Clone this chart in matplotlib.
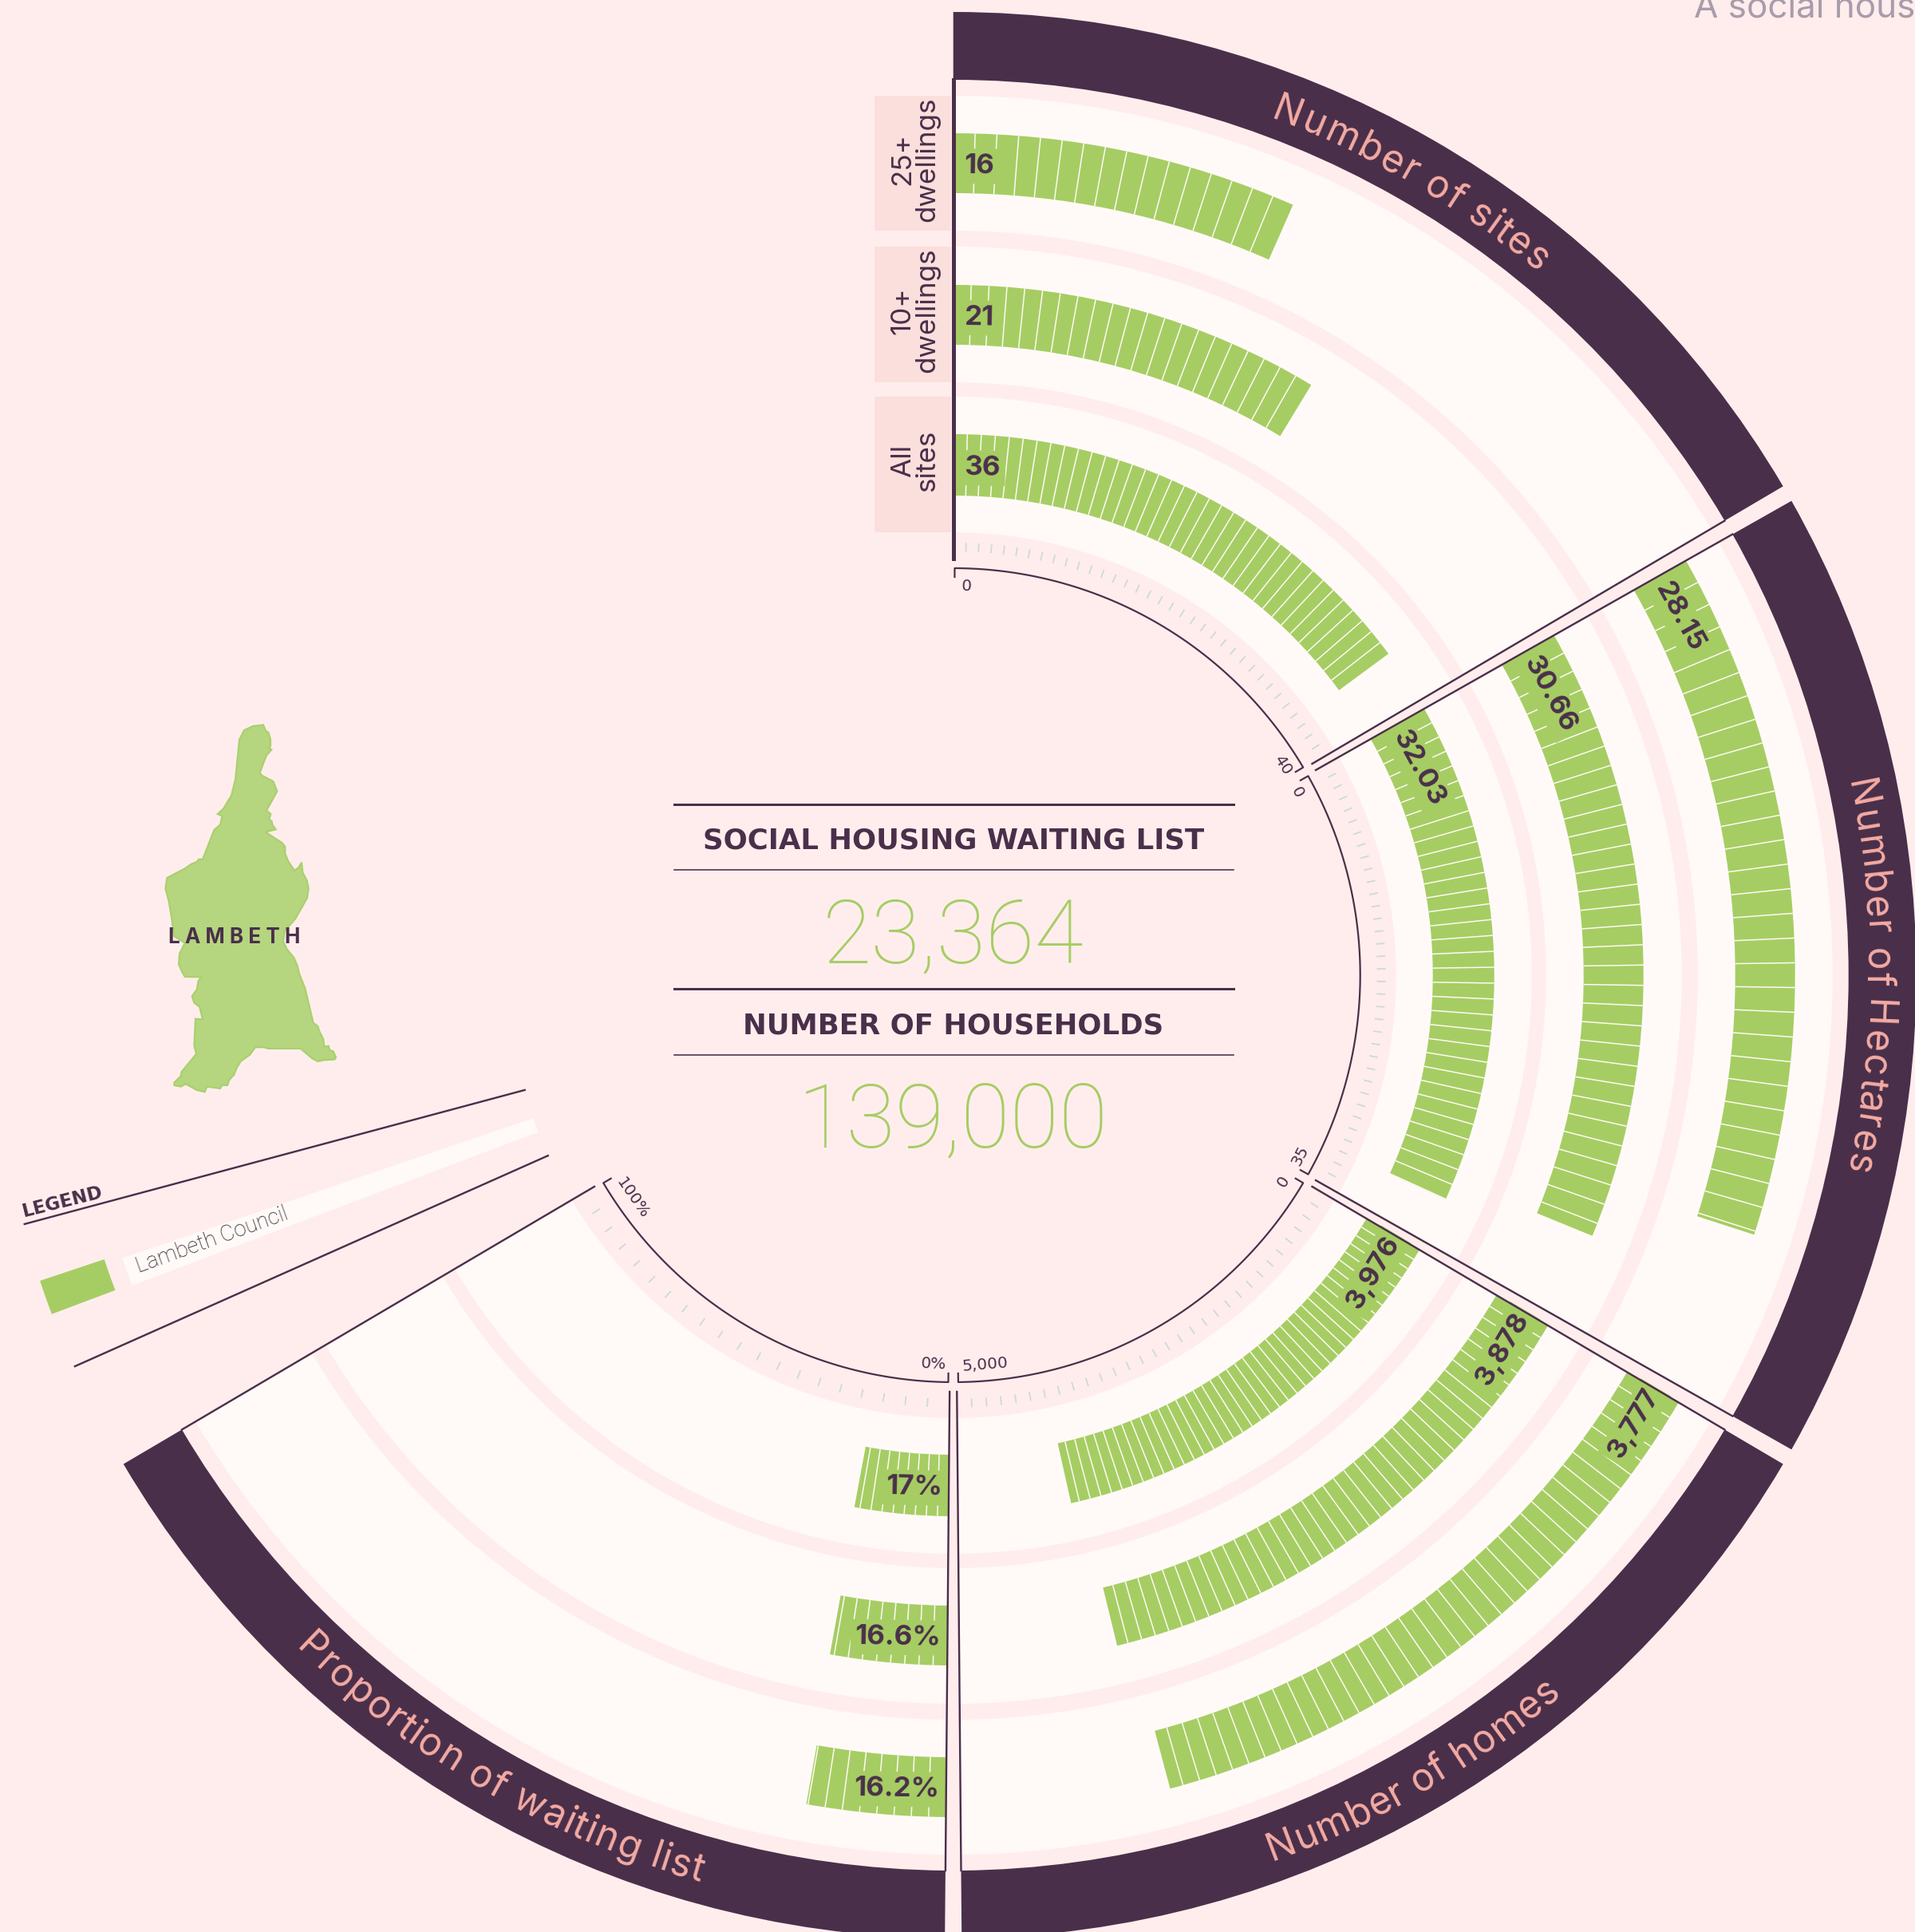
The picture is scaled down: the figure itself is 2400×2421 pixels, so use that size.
#!/usr/bin/env python3
import numpy as np
import matplotlib
matplotlib.use("Agg")
import matplotlib.pyplot as plt
from matplotlib.font_manager import FontProperties

# values, outer ring to inner ring
site_values = [16, 21, 36]
site_labels = ["16", "21", "36"]
site_rows = ["25+\ndwellings", "10+\ndwellings", "All\nsites"]
hectare_values = [28.15, 30.66, 32.03]
hectare_labels = ["28.15", "30.66", "32.03"]
home_values = [3777, 3878, 3976]
home_labels = ["3,777", "3,878", "3,976"]
waiting_values = [16.2, 16.6, 17.0]
waiting_labels = ["16.2%", "16.6%", "17%"]

sector_titles = ["Number of sites", "Number of Hectares", "Number of homes", "Proportion of waiting list"]
axis_min_labels = ["0", "0", "0", "0%"]
axis_max_labels = ["40", "35", "5,000", "100%"]
axis_max = [40, 35, 5000, 100]
segment_step = [1, 1, 100, 2]
scale_ticks = [35, 35, 30, 20]

panel_titles = ["SOCIAL HOUSING WAITING LIST", "NUMBER OF HOUSEHOLDS"]
panel_values = ["23,364", "139,000"]
legend_labels = ["Lambeth Council"]

# borough outline
map_x = [540, 548, 560, 567, 567, 560, 571, 552, 540, 530, 526, 535, 578, 592, 552, 568, 562, 572, 575, 587, 548, 610, 622, 622, 635, 657, 672, 684, 688, 704, 710, 705, 680, 660, 620, 615, 630, 655, 668, 675, 697, 710, 728, 745, 750, 765, 770, 785, 790, 803, 813, 808, 770, 745, 725, 680, 560, 540, 510, 490, 455, 440, 430, 412, 405, 385, 378, 328, 320, 290, 248, 230, 205, 205, 230, 232, 288, 280, 285, 312, 300, 280, 272, 290, 295, 305, 245, 235, 222, 225, 245, 205, 195, 185, 172, 178, 245, 270, 290, 298, 312, 318, 355, 378, 385, 368, 390, 420, 435, 450, 468, 500]
map_y = [85, 105, 115, 140, 165, 170, 178, 200, 230, 258, 265, 275, 298, 335, 407, 420, 440, 448, 462, 478, 488, 528, 543, 570, 600, 632, 622, 602, 640, 670, 700, 735, 780, 815, 860, 900, 930, 960, 990, 1020, 1075, 1130, 1205, 1218, 1235, 1265, 1295, 1292, 1308, 1312, 1335, 1343, 1345, 1350, 1340, 1302, 1302, 1297, 1297, 1325, 1350, 1375, 1400, 1420, 1440, 1440, 1452, 1445, 1465, 1458, 1435, 1445, 1440, 1430, 1405, 1390, 1322, 1290, 1190, 1192, 1145, 1130, 1105, 1080, 1050, 1033, 1032, 1015, 985, 945, 905, 880, 810, 750, 700, 660, 625, 608, 600, 590, 590, 575, 480, 460, 428, 420, 400, 350, 290, 140, 105, 90]

W, H = 2400, 2421
CX, CY = 1194.7, 1222
RMAX = 1300

BG = "#FFEDED"
DARK = "#4A2F4A"
GREEN = "#A6CD63"
MAP_GREEN = "#B5D57F"
WHITE = "#FFFAF7"
SALMON = "#F4ABA3"
BOX = "#FBDFDC"
TICK = "#CFD9D6"

HEAD_FONT = "Inter"
WIDE_FONT = "DejaVu Sans"
LIGHT_FONT = "Roboto"

sector_start = [0, 60.5, 120.5, 180.5]
sector_end = [59.5, 119.5, 179.5, 239.5]
bands = [(933, 1102), (743, 913), (555, 725)]
bar_r = [(980, 1055), (790, 865), (601, 678)]
RING_IN, RING_OUT = 1122, 1207

px = 0.72  # points per pixel at dpi 100

fig = plt.figure(figsize=(W / 100, H / 100), dpi=100, facecolor=BG)
ax = fig.add_axes([(CX - RMAX) / W, (H - CY - RMAX) / H, 2 * RMAX / W, 2 * RMAX / H], projection="polar")
ax.set_theta_zero_location("N")
ax.set_theta_direction(-1)
ax.set_rlim(0, RMAX)
ax.axis("off")

over = fig.add_axes([0, 0, 1, 1], facecolor="none")
over.set_xlim(0, W)
over.set_ylim(H, 0)
over.axis("off")
over.set_zorder(ax.get_zorder() + 1)


def arc_bar(a0, a1, r0, r1, color, z=1):
    ax.bar(np.radians(a0), r1 - r0, width=np.radians(a1 - a0), bottom=r0, align="edge",
           color=color, linewidth=0, zorder=z)


def curved_text(s, mid_angle, span, r_mid, size_px, clockwise):
    fp = FontProperties(family=HEAD_FONT, size=size_px * px)
    rend = fig.canvas.get_renderer()
    width = lambda t: rend.get_text_width_height_descent(t, fp, False)[0] if t else 0.0
    total = width(s)
    cap = 0.72 * size_px
    for i, ch in enumerate(s):
        if ch == " ":
            continue
        centre = (width(s[:i]) + width(s[:i + 1])) / 2 / total - 0.5
        if clockwise:
            a = mid_angle + centre * span
            r = r_mid - cap / 2
            rot = -a
        else:
            a = mid_angle - centre * span
            r = r_mid + cap / 2
            rot = 180 - a
        ax.text(np.radians(a), r, ch, fontproperties=fp, color=SALMON, rotation=rot,
                rotation_mode="anchor", ha="center", va="baseline", zorder=6)


values = [site_values, hectare_values, home_values, waiting_values]
labels = [site_labels, hectare_labels, home_labels, waiting_labels]
title_mid = [30, 90.1, 150, 210]
title_span = [19.6, 24.7, 20.5, 28.9]
label_offset = [14, 10, 4, 8]
min_label_shift = [2.0, 1.5, 1.5, 2.4]
max_label_shift = [2.0, 2.0, 4.2, 4.3]

for s in range(4):
    a0, a1 = sector_start[s], sector_end[s]
    sweep = a1 - a0
    to_angle = lambda v: a0 + v / axis_max[s] * sweep

    arc_bar(a0, a1, RING_IN, RING_OUT, DARK, 2)
    for lo, hi in bands:
        arc_bar(a0, a1, lo, hi, WHITE, 2)

    for (r0, r1), v, lab in zip(bar_r, values[s], labels[s]):
        arc_bar(a0, to_angle(v), r0, r1, GREEN, 3)
        cuts = np.arange(segment_step[s], v, segment_step[s])
        ax.vlines(np.radians(to_angle(cuts)), r0, r1, color=WHITE, linewidth=1.5 * px, zorder=4)
        r = (r0 + r1) / 2
        a = a0 + np.degrees(label_offset[s] / r)
        if s < 2:
            rot, ha = -a, "left"
        else:
            rot, ha = 180 - a, "right"
        ax.text(np.radians(a), r, lab, fontsize=35 * px, family=HEAD_FONT, fontweight="bold", color=DARK,
                rotation=rot, rotation_mode="anchor", ha=ha, va="center_baseline", zorder=5,
                bbox=dict(facecolor=GREEN, edgecolor="none", pad=6 * px))

    # pale scale ticks between the inner arc and the white rings
    tick_a = a0 + sweep * np.arange(1, scale_ticks[s]) / scale_ticks[s]
    ax.vlines(np.radians(tick_a), 531, 542, color=TICK, linewidth=1.8 * px, zorder=2)

    # inner axis arc with end hooks
    arc_a = np.linspace(a0 + 0.2, a1 - 0.2, 120)
    ax.plot(np.radians(np.r_[arc_a[0], arc_a, arc_a[-1]]), np.r_[499, np.full(120, 510), 499],
            color=DARK, linewidth=2.2 * px, zorder=4)
    lo_a = a0 + min_label_shift[s]
    ax.text(np.radians(lo_a), 488, axis_min_labels[s], fontsize=20 * px, family=WIDE_FONT, color=DARK,
            rotation=-lo_a if s < 2 else 180 - lo_a, rotation_mode="anchor",
            ha="center", va="center", zorder=5)
    hi_a = a1 - max_label_shift[s]
    ax.text(np.radians(hi_a), 490, axis_max_labels[s], fontsize=20 * px, family=WIDE_FONT, color=DARK,
            rotation=-hi_a if s < 1 else 180 - hi_a, rotation_mode="anchor",
            ha="center", va="center", zorder=5)

    # sector edges
    for edge in (a0, a1):
        ax.plot(np.radians([edge, edge]), [522, RING_IN], color=DARK,
                linewidth=(5 if edge == 0 else 2.4) * px, zorder=5)

    curved_text(sector_titles[s], title_mid[s], title_span[s], (RING_IN + RING_OUT) / 2 - 2, 48,
                clockwise=s < 2)

# legend
for edge in (255, 246):
    ax.plot(np.radians([edge, edge]), [556, RMAX - 95], color=DARK, linewidth=2.4 * px, zorder=5)
arc_bar(249.3, 251.2, 556, 1100, WHITE, 2)
arc_bar(249.4, 251.5, 1122, 1207, GREEN, 3)
ax.text(np.radians(255.7), 1152, "LEGEND", fontsize=23 * px, family=WIDE_FONT, fontweight="bold", color=DARK,
        rotation=14, rotation_mode="anchor", ha="center", va="center", zorder=6)
ax.text(np.radians(250.3), 986, legend_labels[0], fontsize=27.5 * px, family=LIGHT_FONT, fontweight="light",
        color="#1F1822", rotation=19.7, rotation_mode="anchor", ha="center", va="center", zorder=6)

# row label boxes left of the first sector
for (lo, hi), row in zip(bands, site_rows):
    over.fill_between([1096, 1192], CY - hi, CY - lo, color=BOX, linewidth=0)
    over.text(1147, CY - (lo + hi) / 2 - 5, row, fontsize=35 * px, family=HEAD_FONT, color=DARK, rotation=90,
              ha="center", va="center", ma="center", linespacing=0.95)

# centre panel
for y, lw in ((1008, 3), (1090, 1.6), (1239, 3), (1322, 1.6)):
    over.plot([845, 1546], [y, y], color=DARK, linewidth=lw * px)
for y, t in zip((1050, 1282), panel_titles):
    over.text(CX, y, t, fontsize=35.5 * px, family=WIDE_FONT, fontweight="bold", color=DARK, ha="center", va="center_baseline")
for y, t in zip((1176, 1408), panel_values):
    over.text(CX, y, t, fontsize=112 * px, family=LIGHT_FONT, fontweight="light", color=GREEN, ha="center", va="center")

# map
mx = 150 + np.array(map_x) / 3
my = 880 + np.array(map_y) / 3
over.fill(mx, my, facecolor=MAP_GREEN, edgecolor="#A9D06C", linewidth=1.5)
over.text(294, 1175, "L A M B E T H", fontsize=26 * px, family=HEAD_FONT, fontweight="bold", color=DARK,
          ha="center", va="center")

# clipped page heading
over.text(2123, 22, "A social hous", fontsize=44 * px, family=HEAD_FONT, color="#A89CAB", ha="left", va="baseline")

fig.savefig("out.png", dpi=100, facecolor=BG)
